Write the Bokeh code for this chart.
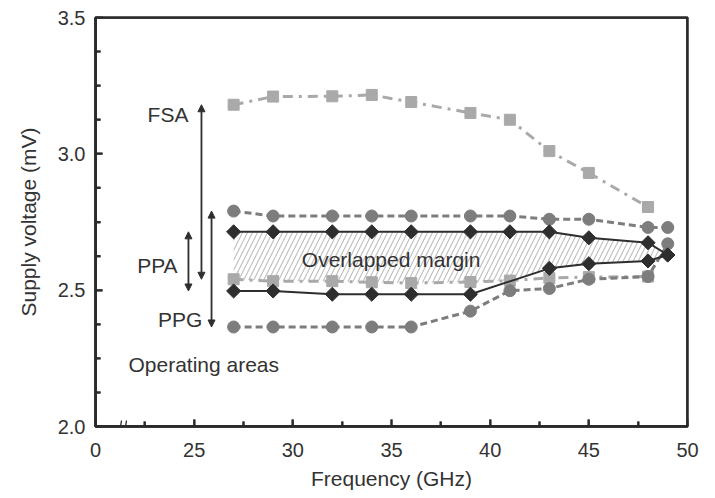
import numpy as np
from bokeh.plotting import figure
from bokeh.models import FixedTicker, PrintfTickFormatter, Arrow, NormalHead, Label
from bokeh.embed import file_html
from bokeh.resources import INLINE

# ---------------- data ----------------
fsa_x = [27, 29, 32, 34, 36, 39, 41, 43, 45, 48]
fsa_upper = [3.18, 3.21, 3.211, 3.216, 3.19, 3.15, 3.125, 3.01, 2.93, 2.805]
fsa_lower = [2.54, 2.533, 2.533, 2.529, 2.526, 2.53, 2.535, 2.545, 2.548, 2.55]

ppg_x = [27, 29, 32, 34, 36, 39, 41, 43, 45, 48, 49]
ppg_upper = [2.79, 2.772, 2.772, 2.772, 2.772, 2.772, 2.772, 2.76, 2.76, 2.73, 2.73]
ppg_lower = [2.365, 2.365, 2.365, 2.365, 2.365, 2.423, 2.498, 2.506, 2.54, 2.55, 2.67]

ppa_upper_x = [27, 29, 32, 34, 36, 39, 41, 43, 45, 48, 49]
ppa_upper = [2.714, 2.714, 2.714, 2.714, 2.714, 2.714, 2.714, 2.714, 2.692, 2.674, 2.629]
ppa_lower_x = [27, 29, 32, 34, 36, 39, 43, 45, 48, 49]
ppa_lower = [2.497, 2.497, 2.485, 2.485, 2.485, 2.485, 2.58, 2.597, 2.607, 2.629]

x_ticks = [20, 25, 30, 35, 40, 45, 50]
x_minor = [22.5, 27.5, 32.5, 37.5, 42.5, 47.5]
x_tick_labels = {20: "0"}
y_ticks = [2.0, 2.5, 3.0, 3.5]
y_minor = [2.125, 2.25, 2.375, 2.625, 2.75, 2.875, 3.125, 3.25, 3.375]

arrow_names = ["FSA", "PPA", "PPG"]
arrow_x = [25.37, 24.71, 25.88]

# axis break position on the frequency axis
break_x = 21.37

X0, X1, Y0, Y1 = 20, 50, 2.0, 3.5
FW, FH = 592, 409          # frame size in px

FONT = "Liberation Sans"
TXT = "#333333"
AX = "#2a2a2a"
C_CIRC = "#7d7d7d"
C_SQ = "#a9a9a9"
C_DIA = "#2e2e2e"

p = figure(frame_width=FW, frame_height=FH,
           x_range=(X0, X1), y_range=(Y0, Y1),
           output_backend="svg", toolbar_location=None,
           min_border_left=95, min_border_right=20,
           min_border_top=17, min_border_bottom=70)

p.xgrid.visible = False
p.ygrid.visible = False
p.outline_line_color = AX
p.outline_line_width = 2.5
p.outline_line_alpha = 1.0

ux = (X1 - X0) / FW   # data units per px
uy = (Y1 - Y0) / FH

# ---------------- overlapped margin (hatched) ----------------
hx = np.array(ppa_upper_x, dtype=float)
top = np.array(ppa_upper)
low = np.maximum(np.interp(hx, ppa_lower_x, ppa_lower), np.interp(hx, fsa_x, fsa_lower))
low = np.minimum(low, top)
p.varea(x=hx, y1=low, y2=top, fill_alpha=0, hatch_pattern="/",
        hatch_color="#bdbdbd", hatch_scale=10, hatch_weight=1.1)

# ---------------- series ----------------
for ys in (fsa_upper, fsa_lower):
    p.line(fsa_x, ys, line_color=C_SQ, line_width=3, line_dash="10 6 3 6")
    p.scatter(fsa_x, ys, marker="square", size=11, fill_color=C_SQ, line_color=C_SQ)

for ys in (ppg_upper, ppg_lower):
    p.line(ppg_x, ys, line_color=C_CIRC, line_width=3, line_dash="7 4")
    p.scatter(ppg_x, ys, marker="circle", size=12, fill_color=C_CIRC, line_color=C_CIRC)

for xs, ys in ((ppa_upper_x, ppa_upper), (ppa_lower_x, ppa_lower)):
    p.line(xs, ys, line_color=C_DIA, line_width=2)
    p.scatter(xs, ys, marker="square", angle=np.pi / 4, size=10,
              fill_color=C_DIA, line_color=C_DIA)

# ---------------- arrows ----------------
arrow_top = [fsa_upper[0], ppa_upper[0], ppg_upper[0]]
arrow_bottom = [fsa_lower[0], ppa_lower[0], ppg_lower[0]]
for ax_, t, b in zip(arrow_x, arrow_top, arrow_bottom):
    p.add_layout(Arrow(x_start=ax_, y_start=b, x_end=ax_, y_end=t,
                       line_color=C_DIA, line_width=1.8,
                       start=NormalHead(size=7, fill_color=C_DIA, line_color=C_DIA),
                       end=NormalHead(size=7, fill_color=C_DIA, line_color=C_DIA)))

# ---------------- texts ----------------
def lab(x, y, t, align):
    p.add_layout(Label(x=x, y=y, text=t, text_align=align, text_baseline="middle",
                       text_font=FONT, text_font_size="21px", text_color=TXT))

lab(24.71, 3.143, "FSA", "right")
lab(24.16, 2.592, "PPA", "right")
lab(25.42, 2.393, "PPG", "right")
lab(21.67, 2.228, "Operating areas", "left")
lab(34.98, 2.614, "Overlapped margin", "center")

# ---------------- frame box and inward ticks (drawn as plain strokes) ----------------
def stroke(xa, ya, xb, yb, w):
    p.add_layout(Arrow(x_start=xa, y_start=ya, x_end=xb, y_end=yb,
                       start=None, end=None, line_color=AX, line_width=w))

ex, ey = 1.3 * ux, 1.3 * uy
stroke(X0, Y0 - ey, X0, Y1 + ey, 2.6)
stroke(X1, Y0 - ey, X1, Y1 + ey, 2.6)
stroke(X0 - ex, Y0, X1 + ex, Y0, 2.6)
stroke(X0 - ex, Y1, X1 + ex, Y1, 2.6)
for t in x_ticks[1:-1]:
    stroke(t, Y0, t, Y0 + 7 * uy, 2)
for t in x_minor:
    stroke(t, Y0, t, Y0 + 5 * uy, 2)
for t in y_ticks[1:-1]:
    stroke(X0, t, X0 + 7 * ux, t, 2)
for t in y_minor:
    stroke(X0, t, X0 + 5 * ux, t, 2)

# axis break mark (two short slanted strokes across the frequency axis)
for dx in (-3, 2):
    stroke(break_x + dx * ux, Y0 - 6 * uy, break_x + (dx + 2) * ux, Y0 + 6 * uy, 1.3)

# ---------------- axes ----------------
for ax in (p.xaxis[0], p.yaxis[0]):
    ax.axis_line_color = AX
    ax.axis_line_width = 2.5
    ax.major_tick_line_color = AX
    ax.major_tick_line_width = 2
    ax.minor_tick_line_color = AX
    ax.minor_tick_line_width = 2
    ax.major_tick_in = 7
    ax.major_tick_out = 0
    ax.minor_tick_in = 5
    ax.minor_tick_out = 0
    ax.major_label_text_font = FONT
    ax.major_label_text_font_size = "20px"
    ax.major_label_text_color = TXT
    ax.axis_label_text_font = FONT
    ax.axis_label_text_font_size = "21px"
    ax.axis_label_text_font_style = "normal"
    ax.axis_label_text_color = TXT

p.xaxis.ticker = FixedTicker(ticks=x_ticks, minor_ticks=x_minor)
p.xaxis.major_label_overrides = x_tick_labels
p.xaxis.major_label_standoff = 16
p.xaxis.axis_label = "Frequency (GHz)"
p.xaxis.axis_label_standoff = 7

p.yaxis.ticker = FixedTicker(ticks=y_ticks, minor_ticks=y_minor)
p.yaxis.formatter = PrintfTickFormatter(format="%.1f")
p.yaxis.major_label_standoff = 10
p.yaxis.axis_label = "Supply voltage (mV)"
p.yaxis.axis_label_standoff = 15

open("out.html", "w").write(file_html(p, INLINE))
